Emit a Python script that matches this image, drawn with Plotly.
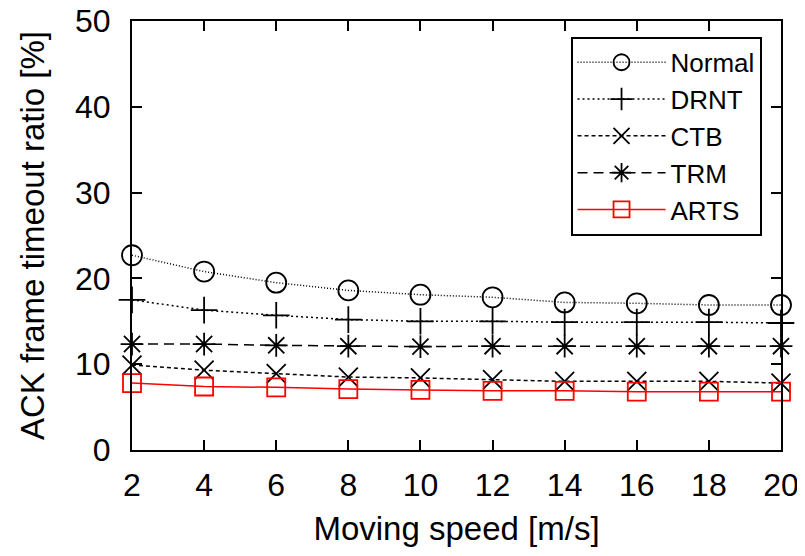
import plotly.graph_objects as go

speed = [2, 4, 6, 8, 10, 12, 14, 16, 18, 20]
normal = [22.7, 20.8, 19.5, 18.6, 18.1, 17.8, 17.2, 17.1, 16.9, 16.9]
drnt = [17.5, 16.3, 15.7, 15.2, 15.0, 15.0, 14.9, 14.9, 14.9, 14.8]
ctb = [9.9, 9.3, 8.9, 8.5, 8.4, 8.2, 8.0, 8.0, 8.0, 7.8]
trm = [12.35, 12.35, 12.2, 12.1, 12.05, 12.1, 12.1, 12.1, 12.1, 12.1]
arts = [7.8, 7.4, 7.3, 7.1, 7.0, 6.9, 6.9, 6.8, 6.8, 6.8]

series = [
    ("Normal", normal, "black", "1px,2px", "circle-open", 20),
    ("DRNT", drnt, "black", "2px,3px", "cross-thin-open", 19),
    ("CTB", ctb, "black", "4px,3px", "x-thin-open", 19),
    ("TRM", trm, "black", "10px,6px", "asterisk-open", 19),
    ("ARTS", arts, "red", "solid", "square-open", 18),
]

fig = go.Figure()
for name, vals, color, dash, sym, size in series:
    fig.add_trace(go.Scatter(
        x=speed, y=vals, name=name, mode="lines+markers",
        line=dict(color=color, width=1.5, dash=dash),
        marker=dict(symbol=sym, size=size, color=color, line=dict(color=color, width=1.8)),
        cliponaxis=False,
    ))

axis_common = dict(
    showline=True, linecolor="black", linewidth=2, mirror="allticks",
    ticks="inside", ticklen=10, tickwidth=1.5, tickcolor="black",
    showgrid=False, zeroline=False, automargin=False,
    ticklabeloverflow="allow",
    tickfont=dict(size=32, color="black"),
)

fig.update_layout(
    width=797, height=548,
    margin=dict(l=124, r=24, t=13, b=106),
    plot_bgcolor="white", paper_bgcolor="white",
    font=dict(family="Liberation Sans, Arial, sans-serif", color="black"),
    xaxis=dict(range=[2, 20], tickvals=speed,
               title=dict(text="Moving speed [m/s]", font=dict(size=33), standoff=14),
               ticklabelstandoff=6,
               **axis_common),
    yaxis=dict(range=[0, 50], tickvals=[0, 10, 20, 30, 40, 50],
               title=dict(text="ACK frame timeout ratio [%]", font=dict(size=33), standoff=20),
               ticklabelstandoff=13,
               **axis_common),
    legend=dict(x=0.97, y=0.963, xanchor="right", yanchor="top",
                bordercolor="black", borderwidth=2, bgcolor="white",
                font=dict(size=26), tracegroupgap=0, itemwidth=88),
    showlegend=True,
)

fig.write_html("out.html")
